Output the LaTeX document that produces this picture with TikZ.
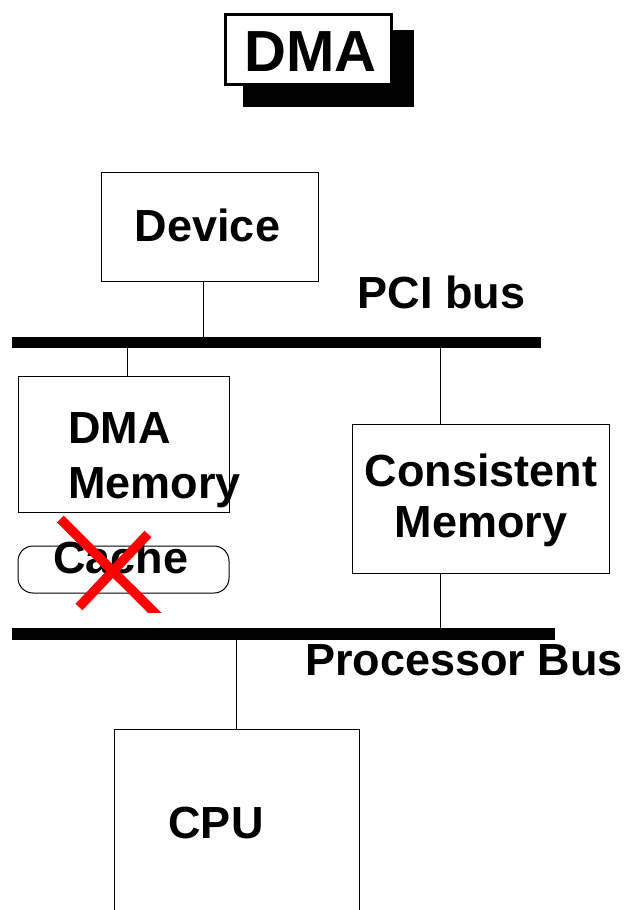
\documentclass[tikz,border=0pt]{standalone}
\usepackage{fontspec}
\setmainfont{Liberation Sans}
\begin{document}
\begin{tikzpicture}[x=1pt,y=-1pt,
  box/.style={draw=black, line width=1pt, inner sep=0pt, fill=white},
  bus/.style={fill=black, draw=none, inner sep=0pt},
  wire/.style={draw=black, line width=1pt},
  label/.style={inner sep=0pt, font=\fontsize{45}{54}\selectfont\bfseries},
  cross/.style={draw=red, line width=9.5pt, line cap=butt}]
\clip (0,0) rectangle (626,910);
\fill[white] (0,0) rectangle (626,910);

% title plate with drop shadow
\node[bus, minimum width=171pt, minimum height=77pt] (shadow) at (328.5,68.5) {};
\node[draw=black, fill=white, line width=2.7pt, inner sep=0pt,
      minimum width=166.3pt, minimum height=70.4pt] (plate) at (308.5,49.5) {};
\node[inner sep=0pt, anchor=base, font=\fontsize{58}{64}\selectfont\bfseries] (title) at (310.5,71) {DMA};

% buses
\node[bus, minimum width=529pt, minimum height=11pt] (pci) at (276.5,342.5) {};
\node[bus, minimum width=543pt, minimum height=12pt] (procbus) at (283.5,634) {};

% boxes
\node[box, minimum width=217pt, minimum height=109pt] (device) at (209.5,226.5) {};
\node[box, minimum width=211pt, minimum height=136pt] (dmamem) at (123.5,444) {};
\node[box, rounded corners=15pt, minimum width=211pt, minimum height=47pt] (cache) at (123.5,569.5) {};
\node[box, minimum width=257pt, minimum height=149pt] (consist) at (480.5,498.5) {};
\node[box, minimum width=245pt, minimum height=231pt] (cpu) at (236.5,844.5) {};

% connections to the buses
\draw[wire] ([xshift=-6.5pt]device.south) -- ([xshift=-6.5pt]device.south |- pci.north);
\draw[wire] ([xshift=4pt]dmamem.north) -- ([xshift=4pt]dmamem.north |- pci.south);
\draw[wire] ([xshift=-40.5pt]consist.north) -- ([xshift=-40.5pt]consist.north |- pci.south);
\draw[wire] ([xshift=-40.5pt]consist.south) -- ([xshift=-40.5pt]consist.south |- procbus.north);
\draw[wire] (cpu.north) -- (cpu.north |- procbus.south);

% labels
\node[label, anchor=base] (tdevice) at (207.5,241) {Device};
\node[label, anchor=base] (tpci) at (441.5,308) {PCI bus};
\node[label, anchor=base west] (tdma) at (68,443) {DMA};
\node[label, anchor=base west] (tdmamem) at (68,498) {Memory};
\node[label, anchor=base] (tcache) at (121,573) {Cache};
\node[label, anchor=base] (tconsist) at (481,486) {Consistent};
\node[label, anchor=base] (tconsmem) at (481,537) {Memory};
\node[label, anchor=base west] (tproc) at (305,675) {Processor Bus};
\node[label, anchor=base] (tcpu) at (216,838) {CPU};

% the cache is struck out
\begin{scope}
  \clip (0,0) rectangle (626,612);
  \draw[cross] (60.3,519) -- (160,618);
\end{scope}
\draw[cross] (148,534) -- (79,607);
\end{tikzpicture}
\end{document}
